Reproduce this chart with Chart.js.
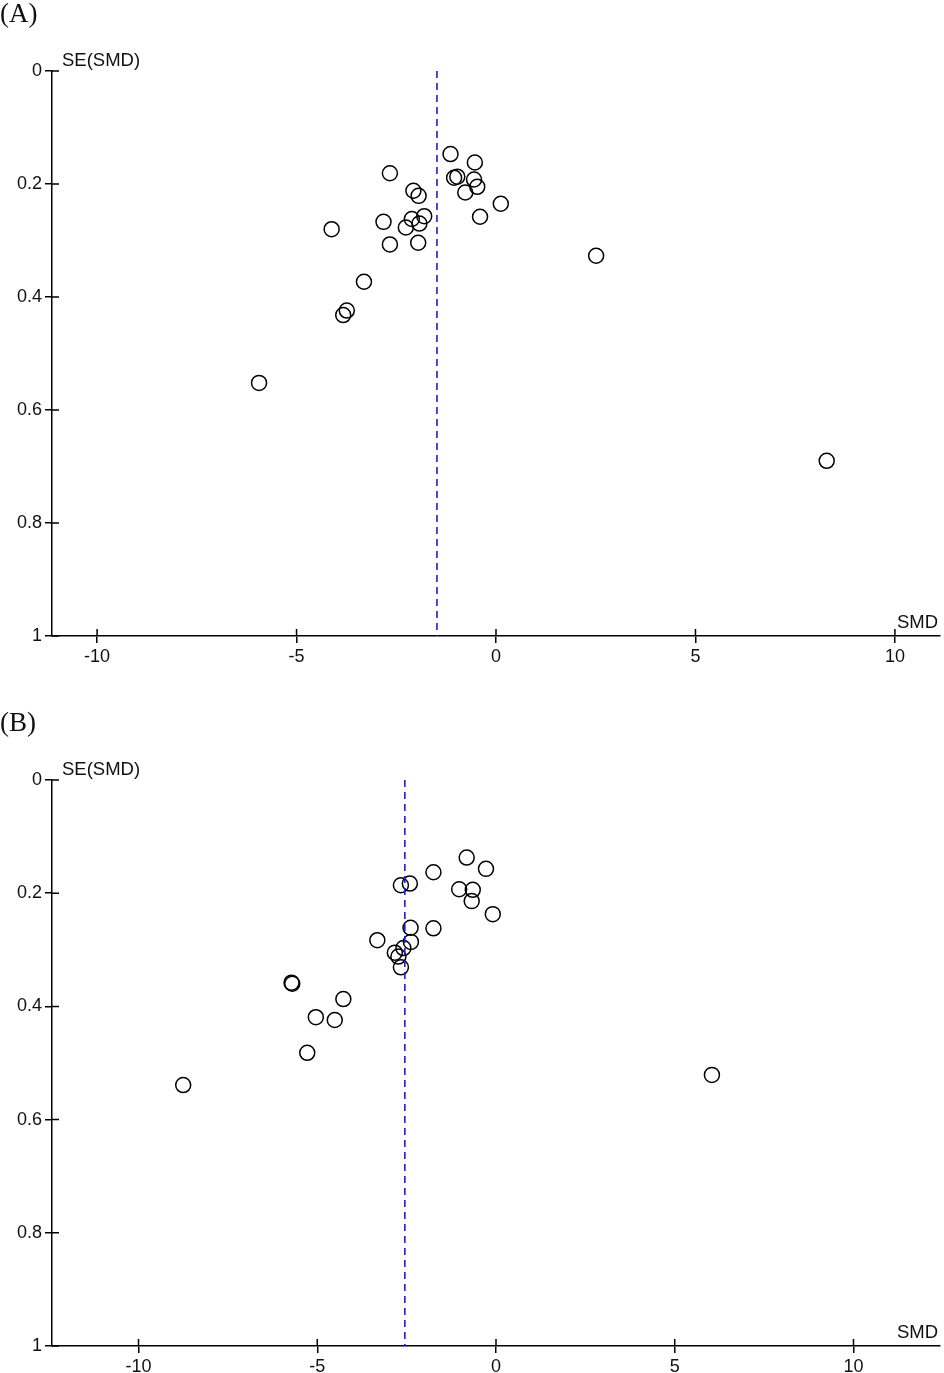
<!doctype html>
<html>
<head>
  <script src="https://cdn.jsdelivr.net/npm/chart.js@4/dist/chart.umd.min.js"></script>
  <style>
    html, body { margin: 0; background: #fff; overflow: hidden; }
    .panel { position: absolute; left: 0; }
    canvas { display: block; }
  </style>
</head>
<body>
  <div class="panel" style="top:0;"><canvas id="chartA" width="944" height="690"></canvas></div>
  <div class="panel" style="top:690px;"><canvas id="chartB" width="944" height="683"></canvas></div>
  <script>
    // panel A: SMD and its standard error per study
    const smdA = [-1.14, -0.53, -2.66, -1.05, -0.97, -0.55, -0.47, -0.77, -2.07, -1.94, 0.12, -0.40, -1.80,
      -2.11, -1.92, -2.26, -2.82, -2.66, -1.95, -4.12, -3.31, -3.74, -3.83, -5.94, 2.51, 8.29];
    const seA = [0.147, 0.162, 0.181, 0.189, 0.187, 0.192, 0.205, 0.215, 0.212, 0.221, 0.235, 0.258, 0.257,
      0.262, 0.270, 0.277, 0.267, 0.307, 0.304, 0.280, 0.373, 0.424, 0.432, 0.552, 0.327, 0.690];
    const pooledA = -1.48;

    // panel B
    const smdB = [-0.82, -0.28, -1.75, -2.66, -2.41, -1.03, -0.65, -0.68, -0.09, -2.39, -1.75, -3.32, -2.38,
      -2.59, -2.83, -2.73, -2.66, -5.72, -5.70, -4.27, -5.04, -4.51, -5.28, -8.75, 6.04];
    const seB = [0.137, 0.157, 0.163, 0.186, 0.183, 0.193, 0.194, 0.214, 0.237, 0.261, 0.262, 0.283, 0.286,
      0.297, 0.305, 0.312, 0.331, 0.358, 0.360, 0.387, 0.419, 0.424, 0.482, 0.539, 0.521];
    const pooledB = -2.55;

    const xTicks = [-10, -5, 0, 5, 10];
    const yTicks = [0, 0.2, 0.4, 0.6, 0.8, 1];

    const tickFont = { family: '"Liberation Sans", Arial, sans-serif', size: 18 };

    // inner half of the tick marks, axis names and the panel letter
    const axisDecor = {
      id: 'axisDecor',
      afterDraw(chart, args, opts) {
        const { ctx, chartArea: a, scales: { x, y } } = chart;
        ctx.save();
        ctx.strokeStyle = '#000';
        ctx.lineWidth = 1.5;
        ctx.beginPath();
        y.ticks.forEach(t => {
          const py = y.getPixelForValue(t.value);
          ctx.moveTo(a.left, py); ctx.lineTo(a.left + 7, py);
        });
        x.ticks.forEach(t => {
          const px = x.getPixelForValue(t.value);
          ctx.moveTo(px, a.bottom); ctx.lineTo(px, a.bottom - 7);
        });
        ctx.stroke();

        ctx.fillStyle = '#111';
        ctx.font = '18.5px "Liberation Sans", Arial, sans-serif';
        ctx.textBaseline = 'alphabetic';
        ctx.textAlign = 'left';
        ctx.fillText('SE(SMD)', a.left + 10, a.top - 5);
        ctx.textAlign = 'right';
        ctx.fillText('SMD', a.right - 2, a.bottom - 8);

        ctx.font = '27px "Liberation Serif", "Times New Roman", serif';
        ctx.textAlign = 'left';
        ctx.fillText(opts.label, 0, opts.labelY);
        ctx.restore();
      }
    };

    function funnel(id, smd, se, pooled, range, opt) {
      const pts = smd.map((v, i) => ({ x: v, y: se[i] }));
      return new Chart(document.getElementById(id), {
        type: 'scatter',
        data: {
          datasets: [{
            data: [{ x: pooled, y: 0 }, { x: pooled, y: 1 }],
            showLine: true,
            borderColor: '#1f1fc8',
            borderWidth: 1.6,
            borderDash: [7, 5],
            pointRadius: 0
          }, {
            data: pts,
            pointStyle: 'circle',
            pointRadius: 7.5,
            borderColor: '#000',
            borderWidth: 1.5,
            backgroundColor: 'rgba(0,0,0,0)'
          }]
        },
        options: {
          responsive: false,
          animation: false,
          layout: { autoPadding: false, padding: { top: opt.top, right: 4, left: 0, bottom: 0 } },
          plugins: {
            legend: { display: false },
            tooltip: { enabled: false },
            axisDecor: { label: opt.label, labelY: opt.labelY }
          },
          scales: {
            x: {
              type: 'linear',
              min: -range,
              max: range,
              afterFit: (s) => { s.height = opt.xh; s.paddingLeft = 0; s.paddingRight = 0; },
              afterBuildTicks: (s) => { s.ticks = xTicks.map(v => ({ value: v })); },
              ticks: { color: '#111', font: tickFont, padding: 3, maxRotation: 0, callback: (v) => String(v) },
              grid: { drawOnChartArea: false, color: '#000', lineWidth: 1.5, tickLength: 7 },
              border: { color: '#000', width: 1.5 }
            },
            y: {
              type: 'linear',
              min: 0,
              max: 1,
              reverse: true,
              afterFit: (s) => { s.width = 52; },
              afterBuildTicks: (s) => { s.ticks = yTicks.map(v => ({ value: v })); },
              ticks: { color: '#111', font: tickFont, padding: 3, callback: (v) => String(v) },
              grid: { drawOnChartArea: false, color: '#000', lineWidth: 1.5, tickLength: 7 },
              border: { color: '#000', width: 1.5 }
            }
          }
        },
        plugins: [axisDecor]
      });
    }

    funnel('chartA', smdA, seA, pooledA, 11.13, { top: 71, xh: 54, label: '(A)', labelY: 22 });
    funnel('chartB', smdB, seB, pooledB, 12.42, { top: 90, xh: 27, label: '(B)', labelY: 41 });
  </script>
</body>
</html>
